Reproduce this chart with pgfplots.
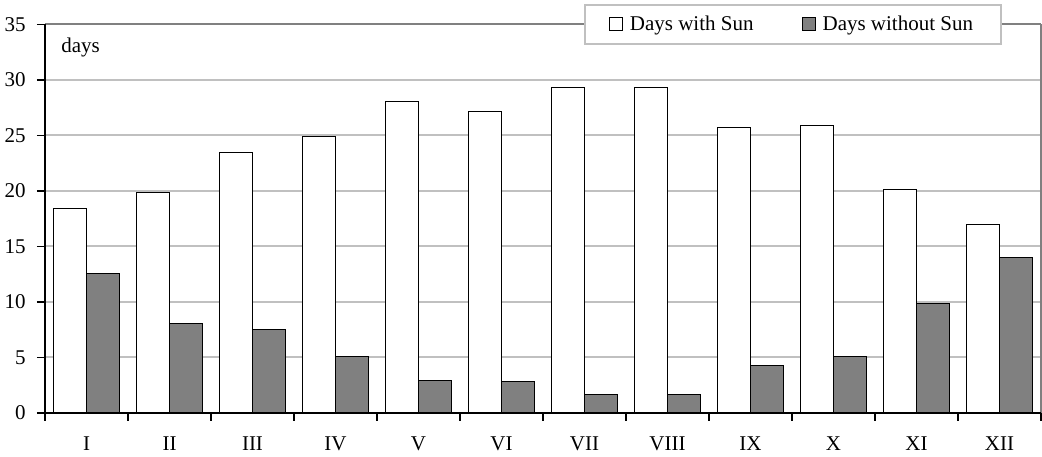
\documentclass[border=0pt]{standalone}
\usepackage{fontspec}
\setmainfont{Liberation Serif}
\usepackage{pgfplots}
\pgfplotsset{compat=1.18}
\definecolor{gridgray}{HTML}{C0C0C0}
\definecolor{bargray}{HTML}{808080}
\begin{document}
\fontsize{10.5}{12.6}\selectfont
\begin{tikzpicture}
\begin{axis}[
  scale only axis,
  width=498pt, height=194.25pt,
  xmin=0.5, xmax=12.5,
  ymin=0, ymax=35,
  ytick={0,5,...,35},
  xtick={0.5,1.5,...,12.5},
  x tick label as interval,
  xticklabels={I,II,III,IV,V,VI,VII,VIII,IX,X,XI,XII},
  xtick pos=left, ytick pos=left,
  tick align=outside,
  major tick length=4pt,
  tick style={black, line width=0.8pt},
  ymajorgrids,
  grid style={gridgray, line width=1pt},
  axis line style={draw=none},
  /pgf/number format/assume math mode=true,
  ticklabel style={font=\fontsize{10.5}{12.6}\selectfont},
  yticklabel style={xshift=-2pt},
  xticklabel style={yshift=-4pt},
  ybar=0pt,
  bar width=0.4,
  legend columns=2,
  legend style={at={(rel axis cs:0.751,1)}, anchor=center,
    draw=gridgray, line width=1pt, fill=white,
    inner xsep=12pt, inner ysep=3.5pt,
    font=\fontsize{10.5}{12.6}\selectfont,
    /tikz/every even column/.append style={column sep=22pt}},
  legend image code/.code={\draw[#1, line width=0.5pt] (0pt,-3.2pt) rectangle (6.5pt,3.6pt); \path (8pt,0pt);},
  clip=false,
]
\addplot[draw=black, fill=white, line width=0.5pt] coordinates {
 (1,18.4) (2,19.9) (3,23.5) (4,24.9) (5,28.1) (6,27.2)
 (7,29.3) (8,29.3) (9,25.7) (10,25.9) (11,20.1) (12,17.0)};
\addlegendentry{Days with Sun}
\addplot[draw=black, fill=bargray, line width=0.5pt] coordinates {
 (1,12.6) (2,8.1) (3,7.5) (4,5.1) (5,2.9) (6,2.8)
 (7,1.7) (8,1.7) (9,4.3) (10,5.1) (11,9.9) (12,14.0)};
\addlegendentry{Days without Sun}
\draw[bargray, line width=1pt] (rel axis cs:0,1) -- (rel axis cs:1,1);
\draw[bargray, line width=0.6pt] (rel axis cs:1,1) -- (rel axis cs:1,0);
\draw[black, line width=1pt] (rel axis cs:0,1) -- (rel axis cs:0,0) -- (rel axis cs:1,0);
\node[anchor=base west, inner sep=0pt] at (rel axis cs:0.016,0.927) {days};
\end{axis}
\pgfresetboundingbox
\path[use as bounding box] ([shift={(-22.5pt,-22pt)}]current axis.south west) rectangle ([shift={(0.5pt,12.25pt)}]current axis.north east);
\end{tikzpicture}
\end{document}
